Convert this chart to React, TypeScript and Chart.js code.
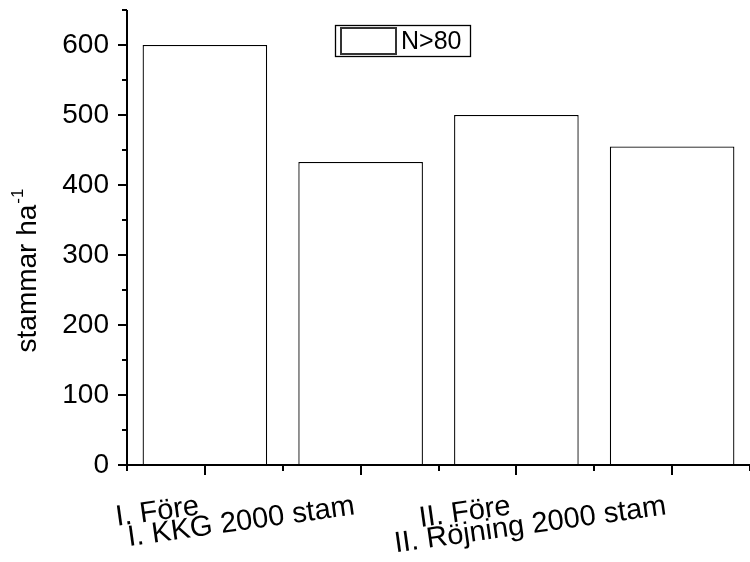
import React, { useEffect, useRef } from "react";
import { Chart, registerables } from "chart.js";

Chart.register(...registerables);

const categories = ["I. Före", "I. KKG 2000 stam", "II. Före", "II. Röjning 2000 stam"];
const values = [600, 433, 500, 455];
const seriesLabel = "N>80";
const yMajorTicks = [0, 100, 200, 300, 400, 500, 600];
const yMinorTicks = [50, 150, 250, 350, 450, 550, 650];
const yTitle = "stammar ha";
const yTitleSup = "-1";

const FONT = '"Liberation Sans", Arial, sans-serif';

const axesPlugin = {
  id: "axesPlugin",
  afterDraw(chart: any) {
    const { ctx, chartArea } = chart;
    const x = chart.scales.x;
    const y = chart.scales.y;
    const left = chartArea.left;
    const bottom = chartArea.bottom;
    ctx.save();
    ctx.strokeStyle = "#000";
    ctx.lineWidth = 2;
    const line = (x1: number, y1: number, x2: number, y2: number) => {
      ctx.beginPath();
      ctx.moveTo(x1, y1);
      ctx.lineTo(x2, y2);
      ctx.stroke();
    };
    // axis lines
    line(left, chartArea.top, left, bottom + 1);
    line(left - 1, bottom, chartArea.right, bottom);
    // y ticks
    yMajorTicks.forEach((v) => {
      const py = Math.round(y.getPixelForValue(v));
      line(left - 9, py, left, py);
    });
    yMinorTicks.forEach((v) => {
      const py = Math.round(y.getPixelForValue(v));
      line(left - 5, py, left, py);
    });
    // x ticks
    const n = categories.length;
    const half = (x.getPixelForValue(1) - x.getPixelForValue(0)) / 2;
    for (let i = 0; i < n; i++) {
      const px = Math.round(x.getPixelForValue(i));
      line(px, bottom, px, bottom + 10);
    }
    for (let i = 0; i <= n; i++) {
      const px = Math.round(x.getPixelForValue(i) - half);
      line(px, bottom, px, bottom + 6);
    }

    // y title with superscript
    ctx.fillStyle = "#000";
    ctx.font = `28px ${FONT}`;
    const mainW = ctx.measureText(yTitle).width;
    ctx.font = `17px ${FONT}`;
    const supW = ctx.measureText(yTitleSup).width;
    const total = mainW + 1 + supW;
    const cy = 270.5;
    const bx = 36;
    ctx.translate(bx, cy);
    ctx.rotate(-Math.PI / 2);
    ctx.textAlign = "left";
    ctx.textBaseline = "alphabetic";
    ctx.font = `28px ${FONT}`;
    ctx.fillText(yTitle, -total / 2, 0);
    ctx.font = `17px ${FONT}`;
    ctx.fillText(yTitleSup, -total / 2 + mainW + 1, -13);
    ctx.setTransform(1, 0, 0, 1, 0, 0);

    // legend
    const ds = chart.data.datasets[0];
    ctx.lineWidth = 1.3;
    ctx.strokeStyle = "#000";
    ctx.strokeRect(335.5, 25.5, 135, 31);
    ctx.fillStyle = ds.backgroundColor;
    ctx.fillRect(341, 28, 55, 26);
    ctx.lineWidth = 2;
    ctx.strokeStyle = "#333";
    ctx.strokeRect(341, 28, 55, 26);
    ctx.fillStyle = "#000";
    ctx.font = `25px ${FONT}`;
    ctx.textAlign = "left";
    ctx.textBaseline = "middle";
    ctx.fillText(ds.label, 401, 42);
    ctx.restore();
  },
};

export default function App() {
  const ref = useRef<HTMLCanvasElement | null>(null);
  useEffect(() => {
    document.body.style.margin = "0";
    const canvas = ref.current;
    if (!canvas) return;
    const chart = new Chart(canvas, {
      type: "bar",
      data: {
        labels: categories,
        datasets: [
          {
            label: seriesLabel,
            data: values,
            backgroundColor: "#ffffff",
            borderColor: "#000000",
            borderWidth: 1.3,
            categoryPercentage: 1,
            barPercentage: 0.8,
          },
        ],
      },
      options: {
        animation: false,
        responsive: false,
        devicePixelRatio: 1,
        layout: { padding: { top: 10, right: 0, left: 0, bottom: 0 } },
        plugins: {
          legend: { display: false },
          tooltip: { enabled: false },
        },
        scales: {
          x: {
            type: "category",
            offset: true,
            grid: { display: false, drawTicks: false },
            border: { display: false },
            ticks: {
              color: "#000",
              font: { family: FONT, size: 29 },
              minRotation: 8,
              maxRotation: 8,
              autoSkip: false,
              padding: 24,
              labelOffset: -6,
            },
            afterFit: (scale: any) => {
              scale.height = 97;
              scale.paddingLeft = 0;
              scale.paddingRight = 0;
              scale.paddingTop = 0;
              scale.paddingBottom = 0;
            },
          },
          y: {
            type: "linear",
            min: 0,
            max: 650,
            grid: { display: false, drawTicks: false },
            border: { display: false },
            ticks: {
              color: "#000",
              font: { family: FONT, size: 28 },
              padding: 18,
            },
            afterBuildTicks: (scale: any) => {
              scale.ticks = yMajorTicks.map((v) => ({ value: v }));
            },
            afterFit: (scale: any) => {
              scale.width = 127;
              scale.paddingTop = 0;
              scale.paddingBottom = 0;
              scale.paddingLeft = 0;
              scale.paddingRight = 0;
            },
          },
        },
      },
      plugins: [axesPlugin],
    });
    return () => chart.destroy();
  }, []);
  return (
    <div style={{ width: 750, height: 562 }}>
      <canvas ref={ref} width={750} height={562} style={{ display: "block" }} />
    </div>
  );
}
